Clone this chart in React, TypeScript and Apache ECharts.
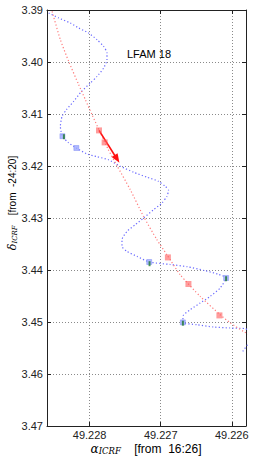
import React, { useEffect, useRef } from 'react';
import * as echarts from 'echarts';

const xTicks = [49.226, 49.227, 49.228];
const yTicks = [3.39, 3.4, 3.41, 3.42, 3.43, 3.44, 3.45, 3.46, 3.47];

const blueCurveRA = [
  49.228576, 49.228435, 49.228271, 49.228154, 49.228014, 49.227896, 49.227803, 49.227756, 49.227756,
  49.227803, 49.227896, 49.22799, 49.228117, 49.228225, 49.228327, 49.228388, 49.228412, 49.228383,
  49.228299, 49.228187, 49.228046, 49.227896, 49.227737, 49.227569, 49.227382, 49.227194, 49.227035,
  49.226937, 49.22689, 49.226913, 49.226983, 49.227101, 49.227242, 49.227358, 49.227475, 49.227545,
  49.227545, 49.227475, 49.227334, 49.227162, 49.226867, 49.226628, 49.226375, 49.226192, 49.22608,
  49.226164, 49.226305, 49.226445, 49.226586, 49.226684, 49.226688, 49.226492, 49.226258, 49.226024,
  49.225813, 49.225715, 49.225743, 49.225846,
];
const blueCurveDec = [
  3.390577, 3.391538, 3.3925, 3.393462, 3.394423, 3.395712, 3.397, 3.398269, 3.399558,
  3.401154, 3.402769, 3.404038, 3.405712, 3.407577, 3.409173, 3.410462, 3.412385, 3.414269,
  3.415519, 3.416538, 3.417635, 3.418212, 3.418788, 3.420038, 3.421192, 3.422154, 3.422923,
  3.423885, 3.424654, 3.425846, 3.427115, 3.428404, 3.43, 3.431288, 3.432577, 3.434173,
  3.435462, 3.436423, 3.437385, 3.438462, 3.438942, 3.439365, 3.440135, 3.440808, 3.441538,
  3.443462, 3.445077, 3.446346, 3.447635, 3.448788, 3.450077, 3.450519, 3.450962, 3.451154,
  3.451288, 3.452058, 3.453596, 3.455654,
];

const redCurveRA = [
  49.228528, 49.228412, 49.228295, 49.228154, 49.22806, 49.227966, 49.22785, 49.227737, 49.227615,
  49.227428, 49.227242, 49.227053, 49.226913, 49.226726, 49.226445, 49.226164, 49.226024, 49.225837,
  49.225743,
];
const redCurveDec = [
  3.390269, 3.395712, 3.399885, 3.404365, 3.40725, 3.410135, 3.413596, 3.416865, 3.419942,
  3.424558, 3.429692, 3.434173, 3.437058, 3.440904, 3.445077, 3.448596, 3.450135, 3.451808,
  3.452442,
];

const blueMarkRA = [49.228383, 49.228187, 49.227162, 49.22608, 49.226688];
const blueMarkDec = [3.414269, 3.416538, 3.438462, 3.441538, 3.450077];

const greenMarkRA = [49.228362, 49.227157, 49.22608, 49.226688];
const greenMarkDec = [3.414365, 3.438788, 3.441673, 3.450231];

const redMarkRA = [49.227868, 49.227789, 49.226899, 49.22661, 49.226174];
const redMarkDec = [3.413154, 3.415462, 3.437577, 3.442692, 3.448731];

const arrowRA = [49.227868, 49.227615];
const arrowDec = [3.413154, 3.418654];

const FONT = "'Liberation Sans', Arial, sans-serif";
const SERIF = "'DejaVu Serif', serif";

const zip = (a: number[], b: number[]) => a.map((v, i) => [v, b[i]]);

export default function App() {
  const ref = useRef<HTMLDivElement>(null);
  useEffect(() => {
    if (!ref.current) return;
    const chart = echarts.init(ref.current, undefined, { renderer: 'svg' });
    const frame = { show: true, onZero: false, lineStyle: { color: '#222', width: 1 } };
    const grid = { type: [1, 2], color: '#8a8a8a', width: 1 };
    const richX = {
      g: { fontFamily: SERIF, fontStyle: 'italic', fontSize: 12, color: '#555', lineHeight: 11 },
      s: { fontFamily: SERIF, fontStyle: 'italic', fontSize: 8.5, color: '#555', lineHeight: 5, verticalAlign: 'bottom' },
      t: { fontFamily: FONT, fontSize: 12, color: '#111', lineHeight: 11 },
    };
    const richY = {
      g: { fontFamily: SERIF, fontStyle: 'italic', fontSize: 11, color: '#555', lineHeight: 11 },
      s: { fontFamily: SERIF, fontStyle: 'italic', fontSize: 7, color: '#555', lineHeight: 5, verticalAlign: 'bottom' },
      t: { fontFamily: FONT, fontSize: 10, color: '#111', lineHeight: 11 },
    };
    chart.setOption({
      animation: false,
      backgroundColor: '#fff',
      grid: { left: 47, right: 9, top: 10, bottom: 37 },
      xAxis: [
        {
          type: 'value', inverse: true, min: 49.2258, max: 49.2286,
          axisLine: frame,
          axisTick: { show: true, inside: true, length: 4, customValues: xTicks, lineStyle: { color: '#222' } },
          axisLabel: { customValues: xTicks, formatter: (v: number) => v.toFixed(3), fontSize: 11, lineHeight: 11, color: '#222', fontFamily: FONT, margin: 3 },
          splitLine: { show: true, lineStyle: grid },
        },
        {
          type: 'value', inverse: true, min: 49.2258, max: 49.2286, position: 'top',
          axisLine: frame,
          axisTick: { show: true, inside: true, length: 4, customValues: xTicks, lineStyle: { color: '#222' } },
          axisLabel: { show: false },
          splitLine: { show: false },
        },
      ],
      yAxis: [
        {
          type: 'value', inverse: true, min: 3.39, max: 3.47, interval: 0.01,
          axisLine: frame,
          axisTick: { show: true, inside: true, length: 4, lineStyle: { color: '#222' } },
          axisLabel: { formatter: (v: number) => v.toFixed(2), fontSize: 11, color: '#222', fontFamily: FONT, margin: 4 },
          splitLine: { show: true, lineStyle: grid },
        },
        {
          type: 'value', inverse: true, min: 3.39, max: 3.47, interval: 0.01, position: 'right',
          axisLine: frame,
          axisTick: { show: true, inside: true, length: 4, lineStyle: { color: '#222' } },
          axisLabel: { show: false },
          splitLine: { show: false },
        },
      ],
      graphic: [
        { type: 'text', x: 149, y: 54, style: { text: 'LFAM 18', font: `11px ${FONT}`, fill: '#000', align: 'center', verticalAlign: 'middle' } },
        { type: 'text', x: 146, y: 449, style: { text: '{g|α}{s|ICRF}    {t|[from  16:26]}', rich: richX, align: 'center', verticalAlign: 'middle' } },
        { type: 'text', x: 12, y: 203, rotation: Math.PI / 2, style: { text: '{g|δ}{s|ICRF}   {t|[from  -24:20]}', rich: richY, align: 'center', verticalAlign: 'middle' } },
      ],
      series: [
        {
          type: 'line', data: zip(blueCurveRA, blueCurveDec), showSymbol: false, symbol: 'none', smooth: 0.2, clip: true,
          lineStyle: { color: '#6a6aff', width: 1.2, type: [1.2, 2.2] }, silent: true, z: 2,
        },
        {
          type: 'line', data: zip(redCurveRA, redCurveDec), showSymbol: false, symbol: 'none', smooth: 0.2, clip: true,
          lineStyle: { color: '#ff7a7a', width: 1.2, type: [1.2, 2.2] }, silent: true, z: 2,
        },
        {
          type: 'scatter', data: zip(blueMarkRA, blueMarkDec), symbol: 'rect', symbolSize: 5, silent: true, z: 3,
          itemStyle: { color: '#9aa6ff', borderColor: '#6e7ef0', borderWidth: 0.5 },
        },
        {
          type: 'scatter', data: zip(greenMarkRA, greenMarkDec), symbol: 'rect', symbolSize: [2, 5], silent: true, z: 4,
          itemStyle: { color: '#1f7a2e' },
        },
        {
          type: 'scatter', data: zip(redMarkRA, redMarkDec), symbol: 'rect', symbolSize: 6, silent: true, z: 5,
          itemStyle: { color: 'rgba(255,90,90,0.75)' },
          markLine: {
            silent: true, animation: false, symbol: ['none', 'triangle'], symbolSize: [7, 9],
            label: { show: false },
            lineStyle: { color: '#ff1010', width: 1.6, type: 'solid' },
            emphasis: { disabled: true },
            data: [[{ coord: [arrowRA[0], arrowDec[0]] }, { coord: [arrowRA[1], arrowDec[1]] }]],
          },
        },
      ],
    });
    return () => chart.dispose();
  }, []);
  return <div ref={ref} style={{ position: 'fixed', left: 0, top: 0, width: 255, height: 463, background: '#fff' }} />;
}
